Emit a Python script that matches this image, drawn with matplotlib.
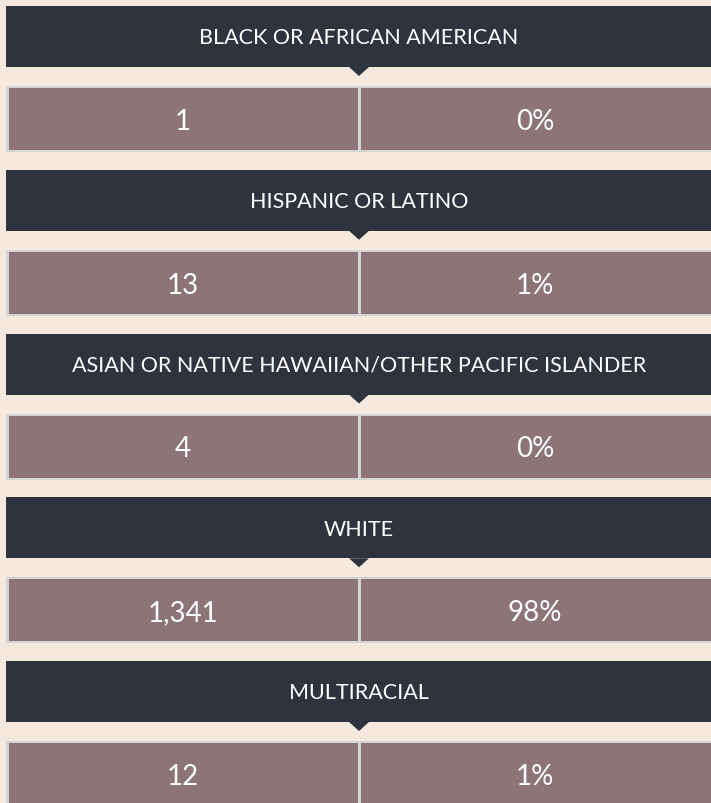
import matplotlib.pyplot as plt
from matplotlib.patches import Rectangle, Polygon

categories = ["BLACK OR AFRICAN AMERICAN", "HISPANIC OR LATINO",
              "ASIAN OR NATIVE HAWAIIAN/OTHER PACIFIC ISLANDER", "WHITE", "MULTIRACIAL"]
counts = [1, 13, 4, 1341, 12]
percents = [0, 1, 0, 98, 1]

bg = "#f5e8df"
dark = "#2f333e"
cell = "#8c7479"
border = "#d4d4d4"
W, H = 711, 804

fig = plt.figure(figsize=(W / 100, H / 100), dpi=100, facecolor=bg)
ax = fig.add_axes([0, 0, 1, 1])
ax.set_xlim(0, W)
ax.set_ylim(H, 0)
ax.axis('off')
ax.set_facecolor(bg)

step = 163.75
for i, (cat, n, p) in enumerate(zip(categories, counts, percents)):
    top = 7 + i * step
    # header bar with little pointer
    ax.add_patch(Rectangle((6, top), 720, 61, facecolor=dark, edgecolor='none'))
    ax.add_patch(Polygon([(349, top + 61), (369, top + 61), (359, top + 70)],
                         closed=True, facecolor=dark, edgecolor='none'))
    ax.text(359, top + 31.5, cat, color='white', fontsize=15.5, family='Lato',
            ha='center', va='center')
    # value row
    ct = top + 80
    ax.add_patch(Rectangle((6, ct), 720, 66, facecolor=border, edgecolor='none'))
    ax.add_patch(Rectangle((9, ct + 2), 348.5, 62, facecolor=cell, edgecolor='none'))
    ax.add_patch(Rectangle((361, ct + 2), 360, 62, facecolor=cell, edgecolor='none'))
    ax.text(183, ct + 35, f"{n:,}", color='white', fontsize=20, family='Lato',
            ha='center', va='center')
    ax.text(535, ct + 35, f"{p}%", color='white', fontsize=20, family='Lato',
            ha='center', va='center')

fig.savefig("out.png", dpi=100, facecolor=bg)
